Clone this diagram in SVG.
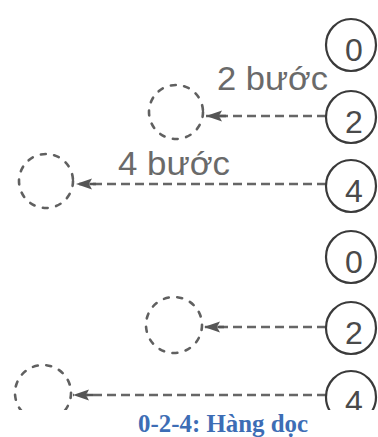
<svg xmlns="http://www.w3.org/2000/svg" width="378" height="437" viewBox="0 0 378 437">
<style>
.node{fill:none;stroke:#3a3a3a;stroke-width:2.2}
.ghost{fill:none;stroke:#606060;stroke-width:2.6;stroke-dasharray:5 8.5;stroke-linecap:round}
.num{font-family:"Liberation Sans",Arial,sans-serif;font-size:32px;fill:#4a4a4a;text-anchor:middle}
.lbl{font-family:"Liberation Sans",Arial,sans-serif;font-size:33px;fill:#6a6a6a}
.link{fill:none;stroke:#666;stroke-width:2.6;stroke-dasharray:9 5}
.cap{font-family:"Liberation Serif","Times New Roman",serif;font-weight:bold;font-size:25px;fill:#3d6db5}
</style>
<defs>
<clipPath id="pic"><rect x="0" y="0" width="378" height="410"/></clipPath>
<marker id="head" viewBox="0 0 20 12" refX="20" refY="6" markerWidth="20" markerHeight="12" markerUnits="userSpaceOnUse" orient="auto">
<path d="M20,6 L4,0.5 L7,6 L4,11.5 z M0,4.8 H7 V7.2 H0 z" fill="#555"/>
</marker>
</defs>
<rect width="378" height="437" fill="#ffffff"/>
<g clip-path="url(#pic)">
<g id="connectors">
<path class="link" d="M326,116 H206" marker-end="url(#head)"/>
<path class="link" d="M326,184 H76" marker-end="url(#head)"/>
<path class="link" d="M326,327 H204" marker-end="url(#head)"/>
<path class="link" d="M326,395 H73" marker-end="url(#head)"/>
</g>
<g id="top-0"><ellipse class="node" cx="351" cy="45" rx="25" ry="26"/><text class="num" x="354" y="61">0</text></g>
<g id="top-2"><ellipse class="node" cx="351" cy="117" rx="25" ry="26"/><text class="num" x="354" y="133">2</text></g>
<g id="top-4"><ellipse class="node" cx="351" cy="186" rx="25" ry="26"/><text class="num" x="354" y="202">4</text></g>
<g id="top-2-target"><circle class="ghost" cx="176" cy="112" r="27"/></g>
<g id="top-4-target"><circle class="ghost" cx="46" cy="181" r="27"/></g>
<g id="bottom-0"><ellipse class="node" cx="351" cy="257" rx="25" ry="26"/><text class="num" x="354" y="273">0</text></g>
<g id="bottom-2"><ellipse class="node" cx="351" cy="328" rx="25" ry="26"/><text class="num" x="354" y="344">2</text></g>
<g id="bottom-4"><ellipse class="node" cx="351" cy="397" rx="25" ry="26"/><text class="num" x="354" y="413">4</text></g>
<g id="bottom-2-target"><circle class="ghost" cx="174" cy="325" r="28"/></g>
<g id="bottom-4-target"><circle class="ghost" cx="43" cy="393" r="28"/></g>
<g id="labels">
<text class="lbl" x="217" y="90" textLength="111" lengthAdjust="spacingAndGlyphs">2 bước</text>
<text class="lbl" x="118" y="175" textLength="112" lengthAdjust="spacingAndGlyphs">4 bước</text>
</g>
</g>
<text id="caption" class="cap" x="138" y="432" textLength="170" lengthAdjust="spacingAndGlyphs">0-2-4: Hàng dọc</text>
</svg>
